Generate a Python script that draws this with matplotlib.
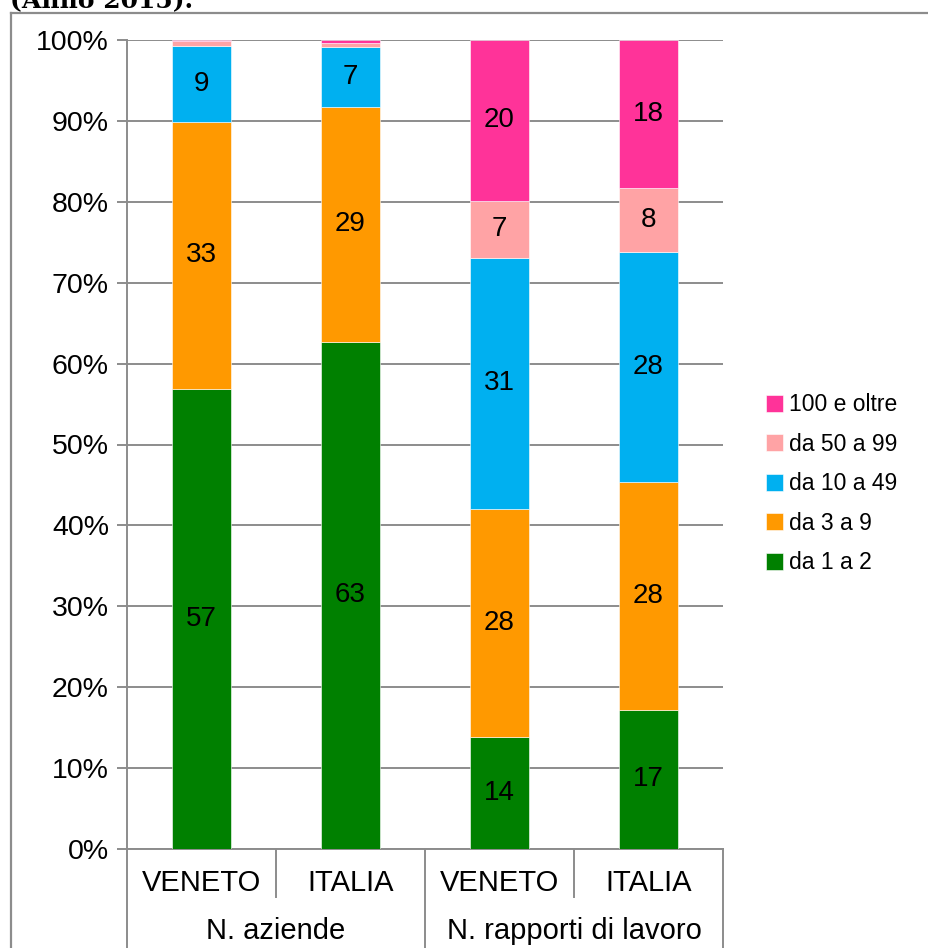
import numpy as np
import matplotlib
matplotlib.use("Agg")
import matplotlib.pyplot as plt
from matplotlib.lines import Line2D

# data (percent of total)
regions = ["VENETO", "ITALIA", "VENETO", "ITALIA"]
groups = ["N. aziende", "N. rapporti di lavoro"]
series_names = ["da 1 a 2", "da 3 a 9", "da 10 a 49", "da 50 a 99", "100 e oltre"]
da_1_a_2 = [56.9, 62.7, 13.8, 17.2]
da_3_a_9 = [33.0, 29.0, 28.2, 28.2]
da_10_a_49 = [9.4, 7.4, 31.1, 28.4]
da_50_a_99 = [0.6, 0.5, 7.0, 7.9]
oltre_100 = [0.1, 0.4, 19.9, 18.3]
colors = ["#008000", "#FF9900", "#00B0F0", "#FFA3A5", "#FF3399"]


def main():
    plt.rcParams['font.family'] = ['Liberation Sans', 'DejaVu Sans']
    fig = plt.figure(figsize=(9.29, 9.48), dpi=100)
    W, H = 929, 948
    x0, x1, ytop, ybot = 127, 723, 40, 849
    ax = fig.add_axes([x0 / W, (H - ybot) / H, (x1 - x0) / W, (ybot - ytop) / H])

    series = [da_1_a_2, da_3_a_9, da_10_a_49, da_50_a_99, oltre_100]
    x = np.arange(len(regions))
    bottom = np.zeros(len(regions))
    handles = []
    for name, vals, col in zip(series_names, series, colors):
        vals = np.array(vals)
        b = ax.bar(x, vals, 0.40, bottom=bottom, color=col, label=name,
                   edgecolor="white", linewidth=0.4, zorder=3)
        handles.append(b)
        for xi, v, bt in zip(x, vals, bottom):
            if v >= 3:
                ax.text(xi, bt + v / 2, f"{v:.0f}", ha="center", va="center",
                        fontsize=20, zorder=4)
        bottom += vals

    ax.set_xlim(-0.5, 3.5)
    ax.set_ylim(0, 100)
    ax.set_yticks(np.arange(0, 101, 10))
    ax.set_yticklabels([f"{t}%" for t in range(0, 101, 10)], fontsize=20.5)
    ax.yaxis.grid(True, color="#8C8C8C", linewidth=1.4, zorder=0)
    ax.tick_params(axis="y", length=7, width=1.4, color="#8C8C8C", pad=6)
    ax.set_xticks([])
    for s in ["top", "right"]:
        ax.spines[s].set_visible(False)
    ax.spines["left"].set_color("#8C8C8C")
    ax.spines["left"].set_linewidth(1.4)
    ax.spines["bottom"].set_color("#8C8C8C")
    ax.spines["bottom"].set_linewidth(1.4)

    # multi-level category axis
    tr = ax.get_xaxis_transform()
    hpx = ybot - ytop
    inner = -(897 - ybot) / hpx
    outer = -(H - ybot + 5) / hpx
    for xs in [0.5, 2.5]:
        ax.add_line(Line2D([xs, xs], [0, inner], transform=tr, color="#8C8C8C",
                           lw=1.4, clip_on=False))
    for xs in [-0.5, 1.5, 3.5]:
        ax.add_line(Line2D([xs, xs], [0, outer], transform=tr, color="#8C8C8C",
                           lw=1.4, clip_on=False))
    for xi, r in zip(x, regions):
        ax.text(xi, -(883 - ybot) / hpx, r, transform=tr, ha="center",
                va="center", fontsize=21)
    for gi, g in enumerate(groups):
        ax.text(0.5 + 2 * gi, -(931 - ybot) / hpx, g, transform=tr,
                ha="center", va="center", fontsize=21)

    fig.legend(handles[::-1], series_names[::-1], loc="upper left",
               bbox_to_anchor=(757 / W, 1 - 384 / H), frameon=False,
               fontsize=16.5, handlelength=0.75, handleheight=0.75,
               handletextpad=0.25, labelspacing=0.72, borderaxespad=0)

    # clipped title and outer frame
    fig.text(10 / W, 1 - 8 / H, "(Anno 2015).", fontsize=18, fontweight="bold",
             family="DejaVu Serif", va="baseline", ha="left")
    fig.add_artist(Line2D([11 / W, 1.0], [1 - 12.5 / H, 1 - 12.5 / H],
                          transform=fig.transFigure, color="#8C8C8C", lw=1.6))
    fig.add_artist(Line2D([11.5 / W, 11.5 / W], [0, 1 - 12.5 / H],
                          transform=fig.transFigure, color="#8C8C8C", lw=1.6))

    fig.savefig("out.png", dpi=100)


if __name__ == '__main__':
    main()
